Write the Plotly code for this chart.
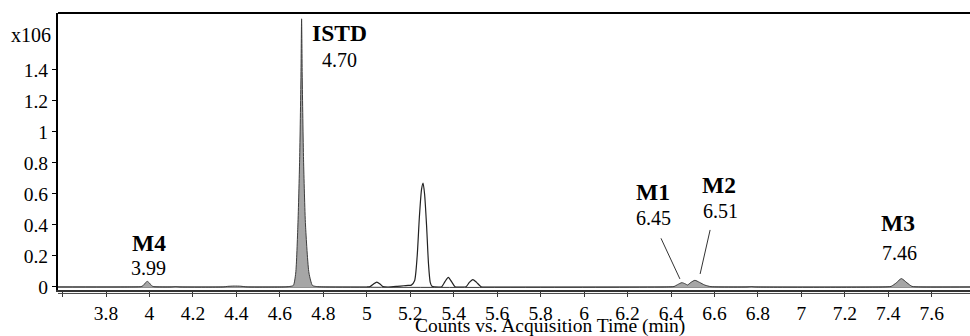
import plotly.graph_objects as go

# Extracted ion chromatogram, x10^6 counts vs. acquisition time (min)
# Shaded trace: metabolites M1-M4 and the internal standard
shaded_time = [3.579, 3.90, 3.960, 3.970, 3.980, 3.990, 4.000, 4.010, 4.020, 4.10, 4.12, 4.14,
               4.34, 4.36, 4.39, 4.42, 4.45, 4.62, 4.643, 4.662, 4.673, 4.683, 4.691, 4.697,
               4.700, 4.703, 4.709, 4.718, 4.734, 4.750, 4.768, 4.80, 6.38, 6.414, 6.430,
               6.450, 6.466, 6.476, 6.492, 6.510, 6.531, 6.556, 6.584, 6.62, 6.75, 6.77, 6.79,
               7.38, 7.413, 7.437, 7.460, 7.486, 7.509, 7.55, 7.776]
shaded_counts = [0, 0, 0.002, 0.008, 0.025, 0.036, 0.025, 0.008, 0.002, 0, 0.003, 0,
                 0, 0.004, 0.006, 0.005, 0, 0, 0.003, 0.01, 0.09, 0.40, 0.82, 1.35,
                 1.73, 1.35, 0.82, 0.40, 0.09, 0.01, 0.003, 0, 0, 0.003, 0.015,
                 0.028, 0.02, 0.013, 0.03, 0.043, 0.03, 0.012, 0.002, 0, 0, 0.003, 0,
                 0, 0.004, 0.027, 0.054, 0.027, 0.004, 0, 0]

# Outline trace: co-eluting background peaks
outline_time = [3.579, 5.00, 5.015, 5.030, 5.046, 5.062, 5.075, 5.10, 5.14, 5.17, 5.19, 5.205,
                5.220, 5.232, 5.242, 5.252, 5.259, 5.266, 5.275, 5.284, 5.292, 5.30, 5.33,
                5.345, 5.360, 5.375, 5.390, 5.406, 5.43, 5.457, 5.472, 5.488, 5.505, 5.526,
                5.56, 7.776]
outline_counts = [0, 0, 0.002, 0.018, 0.032, 0.018, 0.002, 0, 0.004, 0.008, 0.01, 0.012,
                  0.04, 0.2, 0.45, 0.63, 0.67, 0.60, 0.40, 0.15, 0.03, 0.005, 0,
                  0.002, 0.035, 0.062, 0.035, 0.002, 0, 0.002, 0.03, 0.048, 0.03, 0.002,
                  0, 0]

# Annotated peaks
peak_names = ["M4", "ISTD", "M1", "M2", "M3"]
peak_rt = [3.99, 4.70, 6.45, 6.51, 7.46]

x_tick_vals = [3.6, 3.8, 4.0, 4.2, 4.4, 4.6, 4.8, 5.0, 5.2, 5.4, 5.6, 5.8, 6.0, 6.2, 6.4,
               6.6, 6.8, 7.0, 7.2, 7.4, 7.6]
x_tick_text = ["", "3.8", "4", "4.2", "4.4", "4.6", "4.8", "5", "5.2", "5.4", "5.6", "5.8",
               "6", "6.2", "6.4", "6.6", "6.8", "7", "7.2", "7.4", "7.6"]
y_tick_vals = [0, 0.2, 0.4, 0.6, 0.8, 1.0, 1.2, 1.4]
y_tick_text = ["0", "0.2", "0.4", "0.6", "0.8", "1", "1.2", "1.4"]

SERIF = "Liberation Serif, Times New Roman, serif"

fig = go.Figure()
fig.add_trace(go.Scatter(
    x=outline_time, y=outline_counts, mode="lines",
    line=dict(color="#222222", width=1.2, shape="spline", smoothing=0.6),
    hoverinfo="skip", showlegend=False))
fig.add_trace(go.Scatter(
    x=shaded_time, y=shaded_counts, mode="lines", fill="tozeroy",
    fillcolor="#a6a6a6",
    line=dict(color="#3c3c3c", width=1, shape="spline", smoothing=0.6),
    hoverinfo="skip", showlegend=False))

# label placement: (name y, rt y, x shift of name, x shift of rt) in data/pixel units
label_style = {
    "M4":   (0.287, 0.123, 2, 1),
    "ISTD": (1.637, 1.465, 38, 38),
    "M1":   (0.615, 0.445, -29, -28),
    "M2":   (0.660, 0.490, 24, 26),
    "M3":   (0.411, 0.217, -3, -2),
}
annotations = []
for name, rt in zip(peak_names, peak_rt):
    ny, ry, nsx, rsx = label_style[name]
    annotations.append(dict(x=rt, y=ny, xref="x", yref="y", text=f"<b>{name}</b>",
                            showarrow=False, xanchor="center", yanchor="middle",
                            xshift=nsx, font=dict(family=SERIF, size=23.5, color="black")))
    annotations.append(dict(x=rt, y=ry, xref="x", yref="y", text=f"{rt:.2f}",
                            showarrow=False, xanchor="center", yanchor="middle",
                            xshift=rsx, font=dict(family=SERIF, size=20, color="black")))

annotations.append(dict(x=-0.006, y=0.92, xref="paper", yref="paper", text="x106",
                        showarrow=False, xanchor="right", yanchor="middle",
                        font=dict(family=SERIF, size=20, color="black")))
annotations.append(dict(x=0.539, y=-0.13, xref="paper", yref="paper",
                        text="Counts vs. Acquisition Time (min)",
                        showarrow=False, xanchor="center", yanchor="middle",
                        font=dict(family=SERIF, size=19.5, color="black")))

shapes = [
    # leader lines from the M1 / M2 labels to their peaks
    dict(type="line", xref="x", yref="y", x0=6.354, y0=0.314, x1=6.441, y1=0.052,
         line=dict(color="#333333", width=1)),
    dict(type="line", xref="x", yref="y", x0=6.580, y0=0.368, x1=6.534, y1=0.084,
         line=dict(color="#333333", width=1)),
    # top frame line
    dict(type="line", xref="paper", yref="paper", x0=0, x1=1, y0=1, y1=1,
         line=dict(color="black", width=2)),
    # second rule under the time axis
    dict(type="line", xref="paper", yref="paper", x0=0, x1=1, y0=-0.0125, y1=-0.0125,
         line=dict(color="#444444", width=1)),
]

fig.update_layout(
    width=970, height=336,
    margin=dict(l=58, r=0, t=13, b=46),
    paper_bgcolor="white", plot_bgcolor="white",
    font=dict(family=SERIF, size=19.5, color="black"),
    annotations=annotations, shapes=shapes,
    xaxis=dict(range=[3.579, 7.776], tickvals=x_tick_vals, ticktext=x_tick_text,
               showgrid=False, zeroline=False, showline=True, linecolor="#333333",
               linewidth=1.5, ticks="outside", ticklen=5, tickcolor="#333333",
               tickfont=dict(family=SERIF, size=19.5, color="black")),
    yaxis=dict(range=[-0.0194, 1.7677], tickvals=y_tick_vals, ticktext=y_tick_text,
               showgrid=False, zeroline=False, showline=True, linecolor="black",
               linewidth=2, ticks="outside", ticklen=4, tickcolor="black",
               tickfont=dict(family=SERIF, size=19.5, color="black")),
)

fig.write_html("out.html")
